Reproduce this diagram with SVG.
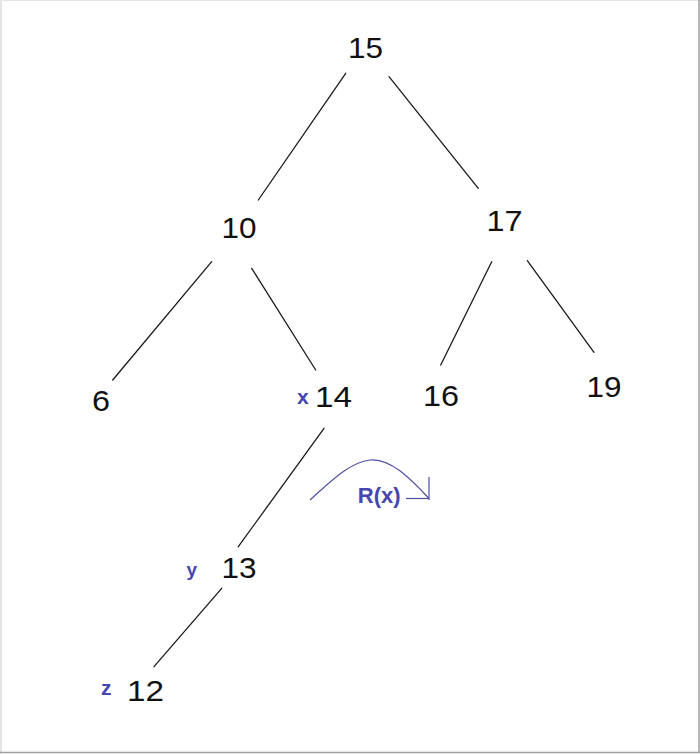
<svg xmlns="http://www.w3.org/2000/svg" width="700" height="754" viewBox="0 0 700 754">
<style>
.num{font-family:"Liberation Sans",Arial,sans-serif;font-size:30px;fill:#111}
.lbl{font-family:"Liberation Sans",Arial,sans-serif;font-weight:bold;fill:#4646ae}
.edge{stroke:#1a1a1a;stroke-width:1.3;fill:none;stroke-linecap:round}
.rot{stroke:#4f4fa6;stroke-width:1.2;fill:none}
</style>
<rect x="0" y="0" width="700" height="754" fill="#ffffff"/>
<g id="frame">
<line x1="0" y1="0.5" x2="700" y2="0.5" stroke="#e4e4e4" stroke-width="1"/>
<line x1="1" y1="0" x2="1" y2="754" stroke="#e4e4e4" stroke-width="2"/>
<line x1="699" y1="0" x2="699" y2="753" stroke="#a0a0a0" stroke-width="1.5"/>
<line x1="0" y1="752.5" x2="700" y2="752.5" stroke="#a0a0a0" stroke-width="1.5"/>
</g>
<g id="connectors">
<line class="edge" x1="345.7" y1="73.3" x2="258.3" y2="200"/>
<line class="edge" x1="389" y1="76.7" x2="478.3" y2="188.3"/>
<line class="edge" x1="211.7" y1="261.7" x2="112.7" y2="380"/>
<line class="edge" x1="251.7" y1="268.3" x2="315.7" y2="370"/>
<line class="edge" x1="491.7" y1="261.7" x2="440.7" y2="365"/>
<line class="edge" x1="527.3" y1="260.7" x2="594" y2="352.3"/>
<line class="edge" x1="324" y1="428.3" x2="238.3" y2="546.7"/>
<line class="edge" x1="221.7" y1="588.3" x2="154" y2="666.7"/>
</g>
<g id="n15"><text class="num" x="348" y="57.5" textLength="35" lengthAdjust="spacingAndGlyphs">15</text></g>
<g id="n10"><text class="num" x="221.5" y="238" textLength="35" lengthAdjust="spacingAndGlyphs">10</text></g>
<g id="n17"><text class="num" x="486.5" y="231" textLength="36" lengthAdjust="spacingAndGlyphs">17</text></g>
<g id="n6"><text class="num" x="92" y="411" textLength="18" lengthAdjust="spacingAndGlyphs">6</text></g>
<g id="n14"><text class="lbl" x="297" y="403.5" font-size="21">x</text><text class="num" x="315" y="407" textLength="37" lengthAdjust="spacingAndGlyphs">14</text></g>
<g id="n16"><text class="num" x="423" y="405.5" textLength="36" lengthAdjust="spacingAndGlyphs">16</text></g>
<g id="n19"><text class="num" x="586.5" y="397" textLength="35" lengthAdjust="spacingAndGlyphs">19</text></g>
<g id="n13"><text class="lbl" x="186.5" y="576" font-size="19">y</text><text class="num" x="221.5" y="578" textLength="35" lengthAdjust="spacingAndGlyphs">13</text></g>
<g id="n12"><text class="lbl" x="101" y="694.5" font-size="21">z</text><text class="num" x="127" y="701" font-size="32" textLength="37" lengthAdjust="spacingAndGlyphs">12</text></g>
<g id="rotation">
<path class="rot" d="M310,500 C330,482 350,462 370,460 C390,458 410,478 429,498.5"/>
<line class="rot" x1="406" y1="498.5" x2="429" y2="498.5"/>
<line class="rot" x1="429" y1="477" x2="429" y2="500"/>
<text class="lbl" x="357.8" y="503.3" font-size="22">R(x)</text>
</g>
</svg>
